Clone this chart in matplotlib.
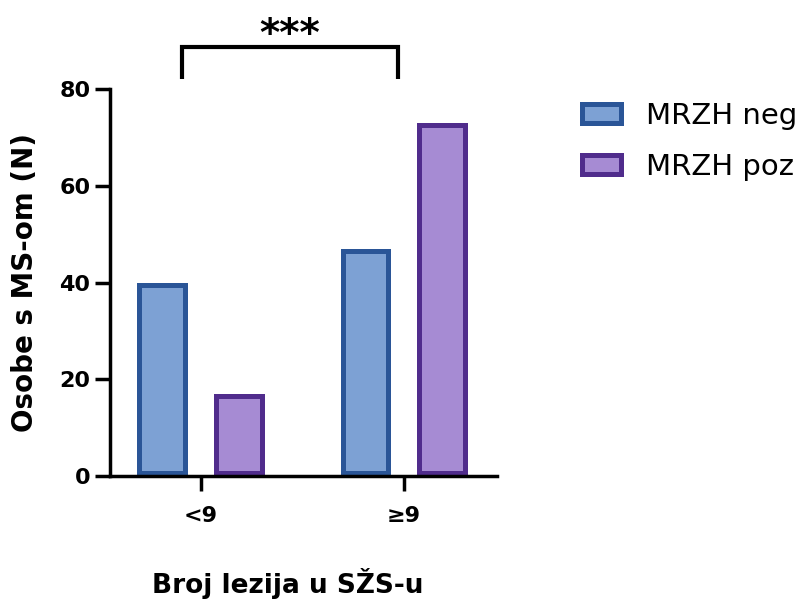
import matplotlib.pyplot as plt
import numpy as np
from matplotlib.patches import Patch

plt.rcParams['font.family'] = ['DejaVu Sans']

# Dados
categories = ["<9", "≥9"]
series_names = ["MRZH neg", "MRZH poz"]
neg_values = [40, 47]
poz_values = [17, 73]
significance = "***"

fill_colors = ["#7DA1D4", "#A68BD3"]
edge_colors = ["#2A5597", "#502C8C"]

fig = plt.figure(figsize=(8.01, 6.00), dpi=100)
ax = fig.add_axes([0.1373, 0.2072, 0.4828, 0.6437])

x = np.arange(len(categories))
bar_width = 0.25
offsets = [-0.187, 0.19]

for vals, off, fc, ec in zip([neg_values, poz_values], offsets, fill_colors, edge_colors):
    bars = ax.bar(x + off, vals, bar_width, color=fc, edgecolor=ec, linewidth=7.2, zorder=2)
    # rub iscrtan unutar stupca
    for b in bars:
        b.set_clip_path(b)

ax.set_xlim(-0.446, 1.456)
ax.set_ylim(0, 80)
ax.set_yticks([0, 20, 40, 60, 80])
ax.set_xticks(x)
ax.set_xticklabels(categories)

for s in ["top", "right"]:
    ax.spines[s].set_visible(False)
for s in ["left", "bottom"]:
    ax.spines[s].set_linewidth(2.5)
    ax.spines[s].set_zorder(3)

ax.tick_params(axis="both", width=2.5, length=11, labelsize=16)
ax.tick_params(axis="x", pad=11)
ax.tick_params(axis="y", pad=3)
for lab in ax.get_xticklabels() + ax.get_yticklabels():
    lab.set_fontweight("bold")

fig.text(25 / 801, 1 - 282 / 600, "Osobe s MS-om (N)", fontsize=20, fontweight="bold",
         rotation=90, ha="center", va="center")
fig.text(288 / 801, 1 - 593 / 600, "Broj lezija u SŽS-u", fontsize=19,
         fontweight="bold", ha="center", va="baseline")

# Oznaka značajnosti
bx0, bx1, by_top, by_bot = -0.093, 0.972, 88.7, 82.2
ax.plot([bx0, bx0, bx1, bx1], [by_bot, by_top, by_top, by_bot], color="black",
        lw=3, clip_on=False, solid_joinstyle="miter", solid_capstyle="butt")
ax.text((bx0 + bx1) / 2, 89.0, significance, ha="center", va="baseline",
        fontsize=28, fontweight="bold")

handles = [Patch(facecolor=fc, edgecolor=ec, linewidth=3.6) for fc, ec in zip(fill_colors, edge_colors)]
fig.legend(handles, series_names, loc="upper left", bbox_to_anchor=(582 / 801, 1 - 102 / 600),
           frameon=False, fontsize=21, handlelength=1.32, handleheight=0.6,
           handletextpad=0.88, labelspacing=0.78, borderaxespad=0, borderpad=0)

plt.savefig("out.png", dpi=100)
